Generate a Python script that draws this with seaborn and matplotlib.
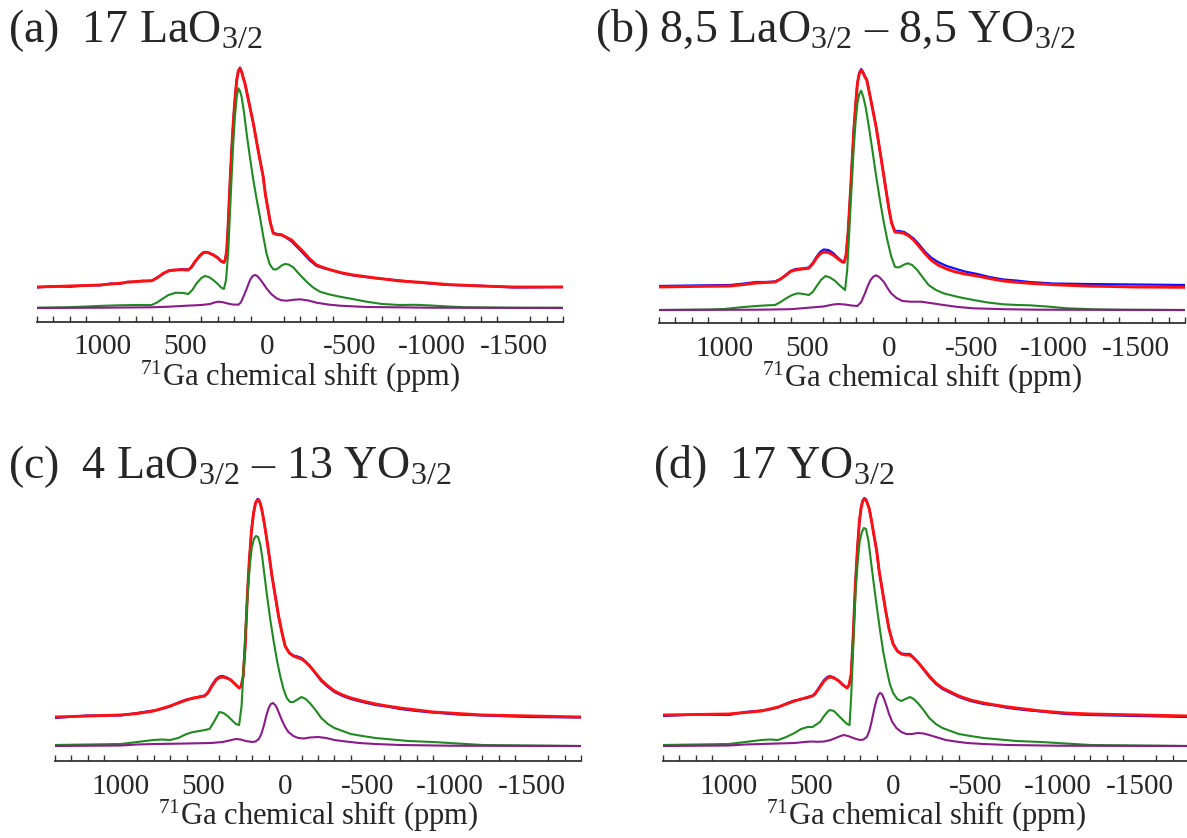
import numpy as np
import pandas as pd
import matplotlib
matplotlib.use("Agg")
import matplotlib.pyplot as plt
from matplotlib.ticker import MultipleLocator, FixedLocator
import seaborn as sns

# ---------------- data (intensity in arbitrary units) -------------
# Panel (a) 17 LaO3/2 : experiment (blue), fit (red), components (green, purple)
A_PPM = [1400, 1300, 1200, 1100, 1017, 950, 895, 850, 816, 760, 702, 670, 632, 600, 571, 520, 480, 460, 439, 410,
         390, 378, 360, 340, 328, 300, 280, 263, 255, 246, 238, 230, 226, 215, 205, 196, 185, 175, 165, 155,
         145, 135, 110, 84, 55, 24, 10, -6, -20, -37, -60, -88, -120, -149, -185, -220, -260, -301, -350, -402,
         -460, -524, -646, -808, -950, -1100, -1300, -1500, -1800]
A_RED = [21, 21.5, 22, 22.5, 23, 24, 24.7, 25.8, 26.3, 26.8, 27.3, 30, 34.7, 37, 38, 38.3, 38, 41, 46.3, 52,
         55, 55.7, 55.5, 54, 53, 50, 47, 45.7, 48, 57, 80, 110, 124.7, 160, 188, 208, 228, 237, 239.7, 236,
         230, 224.7, 205, 184.7, 158, 131.3, 113, 98, 85, 74.7, 73.5, 73, 70.5, 68, 62, 56.3, 49, 43, 40, 37.3,
         35, 33, 30.3, 27, 25.5, 23.5, 22, 21, 21]
A_BLUE = [20.5, 21.8, 21.2, 22.8, 22.6, 24.5, 24.2, 26.2, 26, 27.2, 27, 30.5, 34, 37.5, 37.5, 38.8, 38.5, 40.5, 46, 52.5,
          55.5, 56, 55.8, 53.8, 53.4, 50.5, 46.5, 45.3, 48.5, 57, 80, 110, 124.7, 160, 188, 208, 228, 237.5, 240.5, 236.5,
          230, 224.7, 205, 184.7, 158, 131.3, 113, 98, 85, 75.5, 74, 73.5, 70, 66.5, 60.5, 54.5, 47.5, 42, 39.5, 37.5,
          34.5, 32.5, 30, 27.5, 25, 23, 22.3, 20.5, 21]
A_GRN_PPM = [1400, 1200, 1100, 1000, 900, 800, 702, 670, 632, 600, 555, 510, 480, 455, 429, 400, 378, 355, 328, 300,
             280, 263, 250, 236, 226, 216, 206, 196, 185, 175, 165, 155, 140, 125, 105, 84, 64, 44, 24, 4,
             -15, -37, -52, -67, -88, -108, -130, -159, -200, -240, -280, -321, -380, -443, -520, -605, -700, -808, -900, -1000,
             -1100, -1200, -1500, -1800]
A_GRN = [0.3, 0.8, 1.5, 2.2, 2.7, 3, 3, 5.5, 9.7, 13, 15.3, 15, 14, 18, 24.7, 30, 32, 31, 28, 24,
         20.5, 19, 28, 58, 95, 131, 165, 191, 211, 219.7, 217, 211, 195, 174.7, 151, 128, 109, 91.3, 72, 54.7,
         44, 38.7, 38.5, 39.7, 42.5, 44, 43.5, 40.7, 33, 26.3, 20.5, 16.3, 13.5, 11.3, 9, 6.3, 4, 3, 3.2, 2.5,
         1.5, 0.8, 0.3, 0.3]
A_PUR_PPM = [1400, 1000, 700, 600, 490, 400, 348, 320, 298, 270, 240, 210, 175, 160, 145, 125, 104, 88, 74, 60,
             44, 24, 4, -25, -57, -85, -118, -160, -200, -250, -301, -370, -443, -605, -1000, -1800]
A_PUR = [0, 0.3, 0.7, 1.3, 2.3, 3, 4, 5.5, 6.3, 5.8, 4.5, 3.5, 3.3, 5.5, 11, 19, 28, 32, 33, 32,
         29, 24.5, 19.7, 14, 9.7, 7.8, 7.3, 8.2, 8.7, 7.5, 5.3, 3.5, 2.3, 1, 0.3, 0]

# Panel (b) 8,5 LaO3/2 - 8,5 YO3/2
B_PPM = [1400, 1200, 967, 880, 808, 750, 694, 660, 626, 600, 569, 530, 489, 465, 443, 420, 398, 370, 341, 310,
         285, 273, 262, 250, 233, 216, 204, 193, 182, 170, 158, 147, 136, 110, 79, 50, 22, 0, -15, -35,
         -60, -92, -120, -149, -180, -217, -255, -297, -350, -399, -460, -536, -610, -695, -770, -855, -1000, -1196, -1500, -1800]
B_RED = [23, 23.5, 24, 25.5, 27, 27.5, 28, 31, 35, 38.5, 40, 41, 41.7, 46, 51.7, 56, 58, 57.5, 55, 51,
         48, 47.7, 55, 76.7, 125, 176.7, 205, 226.7, 236, 240, 237, 233, 230, 209, 183, 153, 123, 100, 87, 78,
         77.5, 76.7, 74, 70, 64, 56.7, 50, 45, 41, 38.3, 36, 34, 31.5, 29, 27.8, 26.7, 25.3, 24, 23, 22.7]
B_BLUE = [24, 24.5, 25, 26.5, 28, 28, 28.5, 31, 35.5, 39, 41, 41.5, 42.5, 47, 53, 58, 60.5, 60, 57, 52,
          48.5, 48, 55, 77, 125, 177, 205, 227, 237, 241, 238, 233.5, 230.5, 209, 183, 153, 123, 100, 87.5, 79,
          79, 78, 75, 71.5, 66, 58.5, 52.5, 48, 44, 41.5, 38.5, 36, 33, 30.5, 29.5, 28, 26.5, 26, 25.5, 25]
B_GRN_PPM = [1400, 1100, 1000, 900, 808, 750, 694, 660, 626, 590, 557, 520, 489, 465, 443, 415, 387, 360, 330, 300,
             268, 255, 243, 230, 216, 204, 193, 182, 170, 157, 143, 122, 102, 80, 56, 33, 11, -12, -35, -52,
             -69, -92, -114, -140, -171, -205, -240, -285, -331, -420, -513, -600, -695, -780, -855, -960, -1082, -1250, -1400, -1800]
B_GRN = [0, 0.5, 1, 2.8, 4, 4.6, 5, 8, 11.7, 15, 16.7, 16, 15, 18, 23.3, 30, 34, 32.5, 29.3, 24.5,
         20, 40, 76.7, 118, 160, 188, 206.7, 216, 219.3, 213, 203, 182, 160, 135, 110, 88, 70, 54, 43.3, 42.5,
         43.3, 45.5, 46.7, 45, 40, 32.5, 25, 20, 16.7, 13, 10, 7.5, 5.7, 5, 4.7, 3.5, 1.7, 0.7, 0.3, 0]
B_PUR_PPM = [1400, 800, 600, 489, 400, 340, 307, 270, 230, 193, 170, 147, 130, 113, 95, 79, 60, 33, 10, -12,
             -45, -81, -130, -194, -250, -331, -420, -513, -700, -900, -1800]
B_PUR = [0, 0.3, 0.8, 2.3, 3.5, 5.5, 6, 5.5, 4.5, 4, 8, 16.7, 24, 30, 33.5, 34.7, 33, 28.3, 22, 16.7,
         12, 9, 8.3, 8.3, 7, 5, 3, 1.7, 0.8, 0.3, 0]

# Panel (c) 4 LaO3/2 - 13 YO3/2
C_PPM = [1400, 1200, 1000, 900, 800, 750, 700, 650, 600, 560, 520, 490, 470, 445, 420, 400, 380, 355, 330, 305,
         280, 267, 255, 243, 230, 218, 205, 192, 180, 168, 160, 150, 140, 125, 110, 95, 80, 60, 40, 20,
         0, -25, -50, -75, -100, -125, -150, -185, -220, -260, -300, -350, -400, -470, -550, -620, -700, -800, -900, -1050,
         -1200, -1500, -1800]
C_RED = [29, 30, 31, 32.5, 35, 37.5, 40, 43, 46, 48, 49, 50, 53, 60, 66, 68.5, 69, 68, 66, 62,
         58, 60, 70, 100, 150, 185, 215, 233, 243, 246, 246, 242, 235, 221, 205, 188, 170, 150, 130, 114,
         100, 93, 90, 88.5, 87, 84, 80, 73, 66, 60, 55, 51, 48, 45, 42, 40, 38, 36, 34, 32.5,
         31, 30, 29]
C_BLUE = [28, 30.5, 30.5, 33, 35.5, 37, 39.5, 43.5, 46.5, 47.5, 49.5, 50.5, 53.5, 61, 67, 69.5, 70, 68.5, 66, 62,
          58, 60, 70, 100, 150, 185, 215, 233, 243, 247, 246.5, 242, 235, 221, 205, 188, 170, 150, 130, 114,
          100, 93.5, 90.5, 89.5, 88, 84.5, 80, 72.5, 65, 59, 54, 50, 47, 44, 41, 39.5, 37, 35, 33.5, 31.5,
          30.5, 29, 28.5]
C_GRN_PPM = [1400, 1200, 1000, 900, 800, 750, 700, 650, 600, 560, 520, 490, 460, 430, 400, 375, 350, 325, 300, 280,
             265, 252, 240, 228, 215, 203, 190, 177, 165, 152, 140, 125, 110, 90, 70, 50, 30, 10, -10, -30,
             -50, -75, -100, -125, -150, -185, -220, -260, -300, -350, -400, -470, -550, -650, -750, -900, -1000, -1200, -1500, -1800]
C_GRN = [1, 1.5, 2, 4, 6, 6.5, 6, 8, 12, 14, 15, 16, 17, 25, 34, 33, 30, 26, 22, 21,
         40, 80, 120, 152, 180, 198, 207, 210, 209, 202, 190, 170, 150, 126, 105, 86, 70, 57, 48, 44,
         44, 46.5, 49, 47, 43, 36, 28, 22, 18, 15, 12, 10, 8, 6.5, 5, 4, 3, 1, 0.5, 0]
C_PUR_PPM = [1400, 1000, 900, 800, 700, 600, 450, 380, 340, 300, 270, 240, 200, 180, 160, 145, 130, 115, 100, 87,
             74, 60, 50, 35, 20, 0, -20, -50, -80, -115, -150, -200, -250, -300, -370, -450, -550, -700, -1000, -1800]
C_PUR = [0, 0.5, 1.5, 2, 2.2, 2.5, 3, 4, 5.5, 7, 6.5, 5, 4, 4.5, 7, 12, 20, 30, 38, 42,
         43, 41, 38, 32, 26, 19, 14, 10, 8, 7.5, 8.5, 9, 8, 6, 4.5, 3, 2, 1, 0.3, 0]

# Panel (d) 17 YO3/2
D_PPM = [1400, 1200, 1000, 900, 800, 750, 700, 650, 600, 560, 520, 490, 475, 445, 420, 400, 385, 360, 330, 305,
         280, 268, 255, 243, 230, 217, 205, 195, 185, 175, 165, 155, 145, 130, 120, 100, 85, 65, 45, 25,
         0, -25, -50, -75, -103, -125, -150, -185, -220, -260, -300, -350, -400, -470, -550, -620, -700, -800, -900, -1050,
         -1200, -1500, -1800]
D_RED = [31, 31.5, 32, 33.5, 35, 37, 39, 42, 45, 47, 48.5, 50, 52, 59, 65, 68, 69, 68, 65, 61,
         58, 61, 72, 110, 160, 198, 225, 238, 245, 247, 246, 242, 237, 224, 214, 195, 175, 155, 135, 117,
         102, 95, 92, 91, 91, 88, 84, 77, 70, 63, 58, 54, 50, 46, 43, 41, 39, 37, 35, 33,
         32, 31, 30]
D_BLUE = [30, 31.5, 31, 34, 35.5, 36.5, 38.5, 42.5, 45.5, 46.5, 49, 50.5, 52.5, 60, 66, 69, 70, 68.5, 65, 61,
          58, 61, 72, 110, 160, 198, 225, 238, 245.5, 248, 246.5, 242, 237, 224, 214, 195, 175, 155, 135, 117,
          102, 95.5, 92.5, 92, 92, 88.5, 84, 76.5, 69, 62, 57, 53, 49, 45, 42, 40.5, 38, 36, 34.5, 32,
          31, 30, 29]
D_GRN_PPM = [1400, 1200, 1000, 900, 800, 750, 700, 650, 600, 560, 520, 490, 445, 420, 400, 385, 360, 330, 300, 280,
             265, 255, 240, 228, 215, 203, 190, 178, 165, 150, 135, 120, 100, 80, 60, 40, 20, 0, -25, -50,
             -75, -103, -125, -150, -185, -220, -260, -300, -350, -400, -470, -550, -650, -750, -900, -1000, -1200, -1500, -1800]
D_GRN = [1, 1.5, 2, 4, 6, 6.5, 6, 9, 13, 17, 19, 19, 24, 30, 34, 36, 35, 30, 25, 22,
         21, 50, 110, 155, 185, 205, 214, 218, 217, 205, 185, 165, 140, 116, 94, 77, 62, 53, 47, 45,
         47, 49, 47, 43, 36, 28, 22, 18, 15, 12, 10, 8, 6.5, 5, 4, 3, 1, 0.5, 0]
D_PUR_PPM = [1400, 1000, 900, 800, 700, 600, 540, 500, 460, 420, 380, 350, 320, 300, 275, 250, 225, 200, 180, 160,
             145, 130, 115, 100, 90, 80, 68, 55, 40, 25, 5, -20, -50, -80, -115, -150, -185, -220, -270, -320,
             -380, -450, -550, -700, -1000, -1800]
D_PUR = [0, 0.5, 1.5, 2, 2.5, 3, 4, 4.5, 4.2, 4.5, 6, 8, 10, 11, 10, 8.5, 7, 6, 6.5, 9,
         15, 25, 37, 47, 51, 53, 52, 47, 40, 32, 24, 18, 14, 12, 12, 13, 12.5, 11, 8.5, 6,
         4.5, 3, 2, 1, 0.3, 0]

TITLES = [
    r"(a)  17 LaO$_{\mathrm{3/2}}$",
    r"(b) 8,5 LaO$_{\mathrm{3/2}}$ – 8,5 YO$_{\mathrm{3/2}}$",
    r"(c)  4 LaO$_{\mathrm{3/2}}$ – 13 YO$_{\mathrm{3/2}}$",
    r"(d)  17 YO$_{\mathrm{3/2}}$",
]
XLABEL = r"$^{71}$Ga chemical shift (ppm)"
MAJOR_TICKS = [1000, 500, 0, -500, -1000, -1500]
TICK_LABELS = ["1000", "500", "0", "-500", "-1000", "-1500"]

# ---------------- style ----------------
sns.set_style("white")
plt.rcParams["font.family"] = ["Liberation Serif", "DejaVu Serif"]
plt.rcParams["mathtext.fontset"] = "custom"
plt.rcParams["mathtext.rm"] = "Liberation Serif"
plt.rcParams["mathtext.it"] = "Liberation Serif:italic"

W, H = 1187, 838
fig = plt.figure(figsize=(W / 100, H / 100), dpi=100)

RED, BLUE, GREEN, PURPLE = "#ff1010", "#1010ff", "#1f8a1f", "#8b1a8b"

panels = [
    dict(left=37, axis=322, top=55, off=14, tx=8, ty=42,
         red=(A_PPM, A_RED, A_BLUE), grn=(A_GRN_PPM, A_GRN), pur=(A_PUR_PPM, A_PUR)),
    dict(left=659, axis=323, top=55, off=13, tx=595, ty=42,
         red=(B_PPM, B_RED, B_BLUE), grn=(B_GRN_PPM, B_GRN), pur=(B_PUR_PPM, B_PUR)),
    dict(left=55, axis=761, top=490, off=15, tx=8, ty=478,
         red=(C_PPM, C_RED, C_BLUE), grn=(C_GRN_PPM, C_GRN), pur=(C_PUR_PPM, C_PUR)),
    dict(left=663, axis=761, top=490, off=15, tx=653, ty=478,
         red=(D_PPM, D_RED, D_BLUE), grn=(D_GRN_PPM, D_GRN), pur=(D_PUR_PPM, D_PUR)),
]
AX_W = 526

for p, title in zip(panels, TITLES):
    hpx = p["axis"] - p["top"]
    ax = fig.add_axes([p["left"] / W, (H - p["axis"]) / H, AX_W / W, hpx / H])
    rp, rv, bv = p["red"]
    gp, gv = p["grn"]
    pp, pv = p["pur"]
    sns.lineplot(x=rp, y=bv, ax=ax, color=BLUE, linewidth=1.6, sort=False)
    sns.lineplot(x=rp, y=rv, ax=ax, color=RED, linewidth=2.1, sort=False)
    sns.lineplot(x=gp, y=gv, ax=ax, color=GREEN, linewidth=1.5, sort=False)
    sns.lineplot(x=pp, y=pv, ax=ax, color=PURPLE, linewidth=1.5, sort=False)
    ax.set_xlim(1400, -1800)
    ax.set_ylim(-p["off"], hpx - p["off"])
    for s in ["left", "right", "top"]:
        ax.spines[s].set_visible(False)
    ax.spines["bottom"].set_color("#333333")
    ax.spines["bottom"].set_linewidth(1.3)
    ax.set_yticks([])
    ax.xaxis.set_major_locator(FixedLocator(MAJOR_TICKS))
    ax.set_xticklabels(TICK_LABELS)
    ax.xaxis.set_minor_locator(MultipleLocator(100))
    ax.tick_params(axis="x", which="major", direction="in", length=6, width=1.0,
                   color="#333333", labelsize=21, pad=9)
    ax.tick_params(axis="x", which="minor", direction="in", length=4, width=1.0,
                   color="#333333", bottom=True)
    ax.set_xlabel(XLABEL, fontsize=22, labelpad=-1)
    ax.set_ylabel("")
    fig.text(p["tx"] / W, 1 - p["ty"] / H, title, fontsize=33, va="baseline", ha="left")

fig.savefig("out.png", dpi=100)
